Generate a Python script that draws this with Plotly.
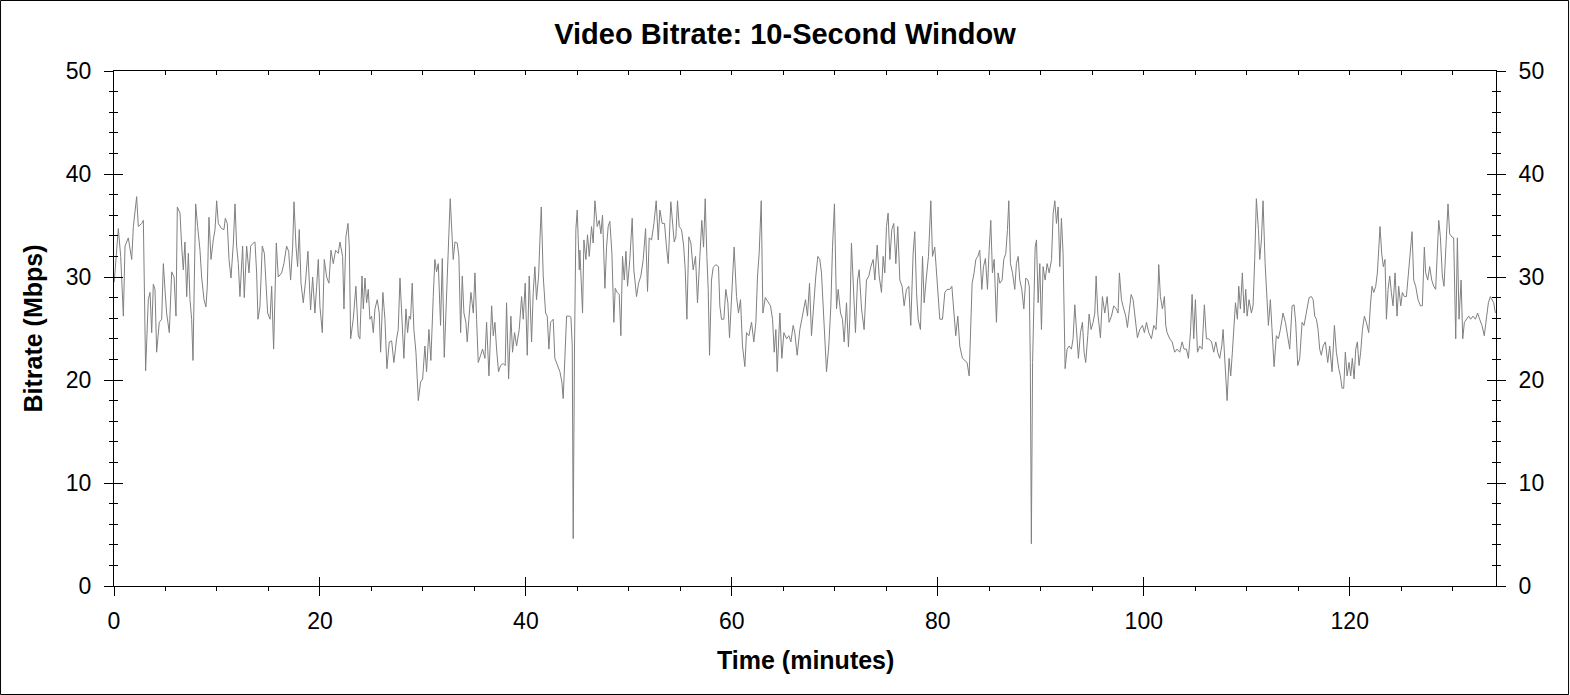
import plotly.graph_objects as go

chart_title = "Video Bitrate: 10-Second Window"
x_title = "Time (minutes)"
y_title = "Bitrate (Mbps)"

x_ticks = [0, 20, 40, 60, 80, 100, 120]
y_ticks = [0, 10, 20, 30, 40, 50]

# readings, minutes / Mbps
t_0_22 = [0.02, 0.19, 0.42, 0.65, 0.91, 1.07, 1.39, 1.72, 1.88, 2.20, 2.36,
          2.69, 2.85, 3.07, 3.33, 3.50, 3.66, 3.82, 3.98, 4.14, 4.40,
          4.63, 4.79, 4.95, 5.11, 5.37, 5.60, 5.83, 6.02, 6.15, 6.41,
          6.57, 6.73, 6.89, 7.06, 7.22, 7.38, 7.54, 7.67, 7.80, 7.93,
          8.12, 8.35, 8.51, 8.74, 8.93, 9.06, 9.22, 9.42, 9.64, 9.81,
          9.97, 10.13, 10.45, 10.68, 10.81, 11.00, 11.17, 11.36, 11.59, 11.75,
          11.91, 12.07, 12.23, 12.49, 12.65, 12.88, 13.11, 13.27, 13.53, 13.69,
          13.85, 13.98, 14.17, 14.40, 14.60, 14.76, 14.92, 15.15, 15.31, 15.50,
          15.76, 15.95, 16.28, 16.50, 16.76, 16.96, 17.15, 17.35, 17.48, 17.67,
          17.83, 17.99, 18.16, 18.38, 18.61, 18.83, 19.09, 19.29, 19.51, 19.68,
          19.84, 20.00, 20.23, 20.42, 20.65, 20.87, 21.07, 21.29, 21.52, 21.78]
r_0_22 = [29.5, 32, 34.7, 32, 26.2, 33, 33.8, 31.7, 34.9, 37.8, 34.9,
          35.2, 35.5, 20.9, 27.8, 28.5, 24.6, 29.3, 28.8, 22.7, 25.6,
          25.9, 31.3, 28.8, 26.5, 24.6, 30.5, 30, 26.2, 36.8, 36.2,
          33, 30.7, 33.4, 28.1, 32.3, 27.8, 25.9, 21.9, 29.7, 37.1,
          34.9, 32.6, 30, 27.8, 27.1, 29.1, 35.8, 31.7, 33.6, 34.6,
          37.4, 35.2, 34.7, 34.6, 35.7, 35.2, 31.7, 29.9, 33.3, 37.1,
          33, 31.3, 28.1, 33, 28, 33, 30.4, 33, 33.3, 33.4,
          30.4, 25.9, 27.1, 33, 32.3, 29.7, 26.5, 25.9, 29.1, 23,
          33.3, 30, 30.4, 31.3, 33, 32.5, 29.7, 33, 37.3, 33,
          31, 34.6, 29.4, 27.5, 29.7, 32.5, 26.8, 30, 26.5, 29.1,
          31.7, 27.1, 24.6, 31.7, 30, 29.4, 32.6, 31.3, 32.6, 32.3]

t_22_45 = [21.94, 22.20, 22.33, 22.52, 22.72, 22.85, 22.98, 23.23, 23.49, 23.72,
           23.88, 24.08, 24.21, 24.37, 24.53, 24.69, 24.85, 25.01, 25.18, 25.34,
           25.56, 25.76, 25.89, 26.11, 26.31, 26.50, 26.73, 26.96, 27.18, 27.44,
           27.60, 27.77, 27.93, 28.15, 28.35, 28.51, 28.67, 28.80, 28.96, 29.12,
           29.32, 29.55, 29.77, 29.97, 30.19, 30.35, 30.58, 30.77, 31.00, 31.16,
           31.32, 31.49, 31.71, 31.88, 32.07, 32.23, 32.39, 32.52, 32.65, 32.81,
           32.94, 33.11, 33.33, 33.49, 33.66, 33.82, 33.98, 34.17, 34.30, 34.46,
           34.66, 34.89, 35.05, 35.21, 35.37, 35.60, 35.79, 36.02, 36.18, 36.41,
           36.67, 36.83, 36.99, 37.15, 37.34, 37.54, 37.80, 37.99, 38.12, 38.32,
           38.54, 38.70, 38.90, 39.09, 39.35, 39.58, 39.74, 39.93, 40.13, 40.32,
           40.55, 40.71, 40.87, 41.03, 41.23, 41.36, 41.49, 41.68, 41.91, 42.07,
           42.23, 42.39, 42.65, 42.81, 43.04, 43.30, 43.49, 43.62, 43.78, 43.95,
           44.21, 44.37, 44.50, 44.59, 44.72, 44.85, 44.98, 45.18]
r_22_45 = [33.4, 32, 26.9, 33.9, 35.2, 32.9, 24, 25.9, 29.1, 24.3,
           24, 30.1, 26.9, 29.9, 27.5, 28.8, 25.9, 26.2, 24.6, 26.9,
           27.8, 26.5, 22.7, 28.5, 25.9, 21.1, 23.7, 23.8, 21.7, 24,
           24.9, 29.9, 25.9, 22.1, 26.9, 24.6, 26.2, 25.9, 29.4, 24.9,
           22.7, 18, 19.8, 20.1, 23.3, 20.8, 24.9, 21.9, 28.1, 31.7,
           30.5, 31.3, 25.3, 31.8, 22.2, 26.5, 32.6, 34.2, 37.6, 33.8,
           31.7, 33.4, 33.3, 32, 24.6, 30.1, 26.5, 25.6, 23.7, 25.9,
           28.5, 26.5, 30.4, 25.9, 21.7, 22.4, 23, 22.1, 25.6, 20.4,
           27.2, 24.3, 25.6, 23, 20.8, 21.4, 21.6, 21.4, 27.5, 20.1,
           26.2, 22.7, 24.6, 23.3, 24.9, 28.1, 25.9, 29.4, 22.4, 30.1,
           23.7, 28.5, 31, 27.8, 30.1, 33.6, 36.8, 30.1, 26.5, 26.2,
           23, 25.6, 25.9, 22.1, 21.4, 20.8, 19.8, 18.2, 22.1, 26.2,
           26.2, 26.1, 23.3, 4.6, 23.3, 34.6, 36.5, 30.7]

t_45_68 = [45.24, 45.50, 45.63, 45.82, 45.98, 46.15, 46.37, 46.53, 46.70, 46.92,
           47.12, 47.28, 47.44, 47.57, 47.67, 47.83, 47.99, 48.15, 48.35, 48.54,
           48.67, 48.86, 49.06, 49.22, 49.38, 49.55, 49.71, 49.87, 50.09, 50.32,
           50.48, 50.74, 50.94, 51.16, 51.39, 51.62, 51.81, 51.97, 52.20, 52.43,
           52.65, 52.85, 53.01, 53.23, 53.46, 53.65, 53.82, 54.07, 54.24, 54.40,
           54.56, 54.72, 54.88, 55.11, 55.31, 55.47, 55.63, 55.82, 56.02, 56.24,
           56.47, 56.66, 56.89, 57.08, 57.25, 57.41, 57.57, 57.70, 57.83, 58.02,
           58.18, 58.44, 58.70, 58.83, 58.99, 59.22, 59.41, 59.61, 59.77, 60.00,
           60.22, 60.45, 60.64, 60.84, 61.03, 61.26, 61.42, 61.65, 61.91, 62.13,
           62.33, 62.49, 62.65, 62.85, 63.01, 63.24, 63.53, 63.75, 63.95, 64.11,
           64.27, 64.40, 64.66, 64.85, 65.05, 65.31, 65.53, 65.73, 65.95, 66.11,
           66.34, 66.60, 66.79, 66.99, 67.15, 67.34, 67.54, 67.73, 67.96, 68.15,
           68.35]
r_45_68 = [32.6, 26.5, 33.6, 31.7, 34.1, 32, 34.9, 33.3, 37.4, 34.9,
           35.5, 34.2, 36, 32.9, 28.9, 32.9, 34.9, 35.4, 32.3, 25.6,
           28.9, 28.5, 28.3, 24.3, 32, 29.7, 32.5, 29.1, 31.7, 35.7,
           30.7, 28.1, 29.4, 30.1, 31.7, 34.7, 28.6, 33.8, 33.6, 35.2,
           37.4, 33.6, 36.5, 35.2, 35.2, 32.9, 31.3, 37.3, 35.2, 33.4,
           33.9, 37.4, 34.9, 34.6, 33.1, 30.7, 25.9, 33.9, 33.3, 30.7,
           32, 27.5, 32, 35.5, 32.9, 37.6, 32, 28.8, 22.4, 29.7,
           30.9, 31.2, 31, 27.2, 25.9, 25.9, 28.8, 27.5, 24.1, 28.8,
           32.9, 28.1, 26.5, 27.8, 23.3, 21.3, 24.6, 24.3, 25.6, 23.7,
           25.6, 30.1, 32.3, 37.4, 26.5, 28, 27.5, 27.2, 25.9, 22.7,
           24.9, 20.8, 26.5, 22.1, 24.6, 24, 24.3, 23.7, 25.3, 24.6,
           22.4, 24.9, 25.9, 27.2, 27.8, 26.2, 29.4, 24.3, 28.1, 30.1,
           32]

t_68_92 = [68.54, 68.70, 68.86, 69.03, 69.19, 69.41, 69.61, 69.77, 69.96, 70.16,
           70.32, 70.55, 70.74, 70.90, 71.13, 71.32, 71.45, 71.61, 71.78, 72.00,
           72.20, 72.36, 72.59, 72.84, 73.07, 73.30, 73.49, 73.72, 73.88, 74.11,
           74.30, 74.53, 74.69, 74.85, 75.01, 75.17, 75.34, 75.53, 75.72, 75.92,
           76.11, 76.31, 76.53, 76.73, 76.95, 77.18, 77.37, 77.60, 77.76, 77.93,
           78.09, 78.31, 78.51, 78.67, 78.90, 79.09, 79.32, 79.48, 79.70, 79.93,
           80.19, 80.45, 80.68, 80.90, 81.16, 81.36, 81.55, 81.74, 81.94, 82.13,
           82.39, 82.65, 82.84, 83.04, 83.17, 83.33, 83.52, 83.69, 83.88, 84.07,
           84.27, 84.43, 84.62, 84.82, 84.98, 85.14, 85.30, 85.47, 85.69, 85.85,
           86.02, 86.24, 86.40, 86.60, 86.76, 86.89, 87.05, 87.25, 87.47, 87.63,
           87.80, 87.96, 88.15, 88.35, 88.54, 88.74, 88.88, 88.98, 89.08, 89.20,
           89.45, 89.58, 89.74, 89.90, 90.06, 90.22, 90.42, 90.61, 90.81, 91.04,
           91.20, 91.36, 91.52, 91.68]
r_68_92 = [31.7, 30.4, 26.9, 22.7, 20.8, 23.3, 27.2, 32.9, 37.1, 26.9,
           28.8, 26.5, 25.9, 23.7, 27.5, 23.2, 25.9, 33.3, 29.4, 24.6,
           29.7, 30.7, 26.9, 24.9, 29.7, 30.1, 31, 31.7, 29.7, 33.1,
           30.1, 28.5, 32, 30.4, 34.9, 36.2, 31.7, 34.6, 35.2, 31.3,
           34.9, 29.7, 29.1, 27.2, 28.8, 29.1, 25.3, 32.3, 34.4, 28.5,
           25.9, 24.9, 32, 27.5, 30.1, 32, 37.4, 32, 32.9, 29.1,
           25.9, 25.9, 28.5, 28.8, 28.8, 29.1, 26.2, 24.3, 26.2, 23.3,
           22.1, 21.9, 21.7, 20.4, 25.6, 29.4, 30.4, 31.7, 32, 32.6,
           28.8, 31, 31.8, 28.8, 32.6, 35.5, 30.4, 31.7, 25.6, 30.4,
           29.4, 29.7, 31.7, 32.3, 34.6, 37.4, 31.3, 30.4, 28.8, 31.3,
           32, 29.7, 28.8, 26.9, 29.9, 29.7, 29.1, 21.7, 4.1, 21.7,
           32.9, 33.6, 27.5, 31.3, 24.9, 31, 29.7, 31.3, 30.4, 31.7,
           36.2, 37.4, 35.2, 36.8]

t_92_116 = [91.84, 92.00, 92.16, 92.23, 92.36, 92.55, 92.75, 92.97, 93.13, 93.30,
            93.46, 93.65, 93.85, 94.04, 94.20, 94.36, 94.56, 94.69, 94.88, 95.08,
            95.24, 95.37, 95.53, 95.79, 95.98, 96.21, 96.44, 96.63, 96.86, 97.08,
            97.34, 97.50, 97.63, 97.83, 98.05, 98.25, 98.41, 98.57, 98.77, 98.96,
            99.15, 99.38, 99.61, 99.87, 100.06, 100.26, 100.48, 100.74, 100.97, 101.19,
            101.36, 101.45, 101.61, 101.81, 102.00, 102.13, 102.26, 102.52, 102.75, 103.00,
            103.23, 103.49, 103.72, 103.91, 104.14, 104.33, 104.53, 104.69, 104.85, 105.01,
            105.21, 105.43, 105.66, 105.88, 106.08, 106.31, 106.57, 106.79, 106.99, 107.18,
            107.37, 107.57, 107.70, 107.86, 108.09, 108.28, 108.44, 108.60, 108.73, 108.90,
            109.09, 109.22, 109.38, 109.57, 109.74, 109.90, 110.03, 110.22, 110.45, 110.61,
            110.77, 110.93, 111.13, 111.26, 111.42, 111.58, 111.78, 111.97, 112.10, 112.29,
            112.46, 112.65, 112.87, 113.07, 113.26, 113.52, 113.75, 113.94, 114.17, 114.40,
            114.59, 114.75, 114.95, 115.14, 115.37, 115.56, 115.79, 116.05]
r_92_116 = [31, 35.7, 32.3, 26.5, 21.1, 23, 23.3, 23, 24, 27.3,
            24.3, 22.1, 24.6, 25.6, 22.7, 21.7, 24.3, 26.4, 24.9, 25.6,
            26.5, 30.1, 26.5, 24.1, 28.1, 26.5, 28.1, 25.6, 26.2, 27.2,
            26.9, 26.5, 30.4, 27.8, 26.9, 26.2, 25.1, 26.5, 28.3, 27.8,
            25.9, 24.1, 24.9, 25.3, 24.6, 25.6, 24.6, 24, 25.3, 24.9,
            28.1, 31.2, 28.1, 26.9, 28.1, 25.3, 24.6, 24, 23.7, 22.7,
            23, 22.7, 23.7, 23, 23, 22.1, 24.6, 28.3, 24, 27.8,
            22.7, 23.3, 23, 27.3, 24, 24, 23.7, 22.7, 23.7, 22.7,
            22.1, 23.3, 24.9, 22.4, 18, 22.1, 20.4, 22.7, 25.3, 27.5,
            25.9, 29.1, 26.9, 30.4, 26.5, 28.8, 26.2, 27.8, 26.5, 27.2,
            31.7, 37.6, 34.6, 31.7, 33.6, 37.4, 31.3, 27.2, 25.3, 27.8,
            24.3, 21.3, 24.3, 24, 24.9, 26.5, 25.6, 24.3, 23, 27.2,
            27.3, 25.6, 21.4, 22.1, 25.6, 25.3, 26.5, 28]

t_116_134 = [116.27, 116.44, 116.60, 116.76, 116.92, 117.08, 117.24, 117.41, 117.63, 117.86,
             118.05, 118.28, 118.51, 118.70, 118.93, 119.09, 119.25, 119.41, 119.57, 119.74,
             119.93, 120.09, 120.25, 120.42, 120.58, 120.74, 120.90, 121.06, 121.23, 121.42,
             121.61, 121.84, 122.00, 122.16, 122.33, 122.52, 122.68, 122.81, 122.94, 123.10,
             123.26, 123.42, 123.56, 123.72, 123.88, 124.04, 124.20, 124.40, 124.59, 124.75,
             124.95, 125.11, 125.30, 125.50, 125.69, 125.89, 126.05, 126.21, 126.40, 126.63,
             126.86, 127.05, 127.24, 127.37, 127.57, 127.76, 127.96, 128.15, 128.34, 128.47,
             128.64, 128.80, 128.99, 129.15, 129.32, 129.54, 129.70, 129.90, 130.09, 130.29,
             130.45, 130.61, 130.81, 130.97, 131.13, 131.32, 131.55, 131.74, 131.97, 132.20,
             132.42, 132.61, 132.84, 133.06, 133.26, 133.46, 133.65, 133.81, 133.98, 134.14]
r_116_134 = [28.1, 27.8, 26.2, 25.9, 24.9, 23, 22.4, 23.3, 23.7, 21.7,
             23.3, 20.8, 25.3, 22.7, 21.1, 20.4, 19.2, 19.2, 22.7, 20.4,
             21.7, 20.4, 22.1, 20.1, 23, 23.7, 21.4, 22.7, 24.9, 26.2,
             25.6, 24.6, 27.2, 29.1, 28.5, 29.1, 30.4, 32.9, 34.9, 32.3,
             31, 31.7, 25.9, 28.8, 30.1, 28.5, 27.2, 30.4, 26.2, 29.1,
             27.2, 28.5, 28.1, 28.1, 30.1, 32, 34.4, 29.7, 29.1, 27.8,
             27.2, 27.2, 32.9, 30.4, 29.7, 31, 29.7, 29.1, 28.8, 31.7,
             35.5, 33.9, 30.1, 29.1, 32.9, 37.1, 34.2, 33.9, 33.8, 24,
             33.8, 25.9, 29.7, 24, 25.6, 25.9, 26.2, 25.9, 26.2, 25.9,
             26.5, 25.9, 25.3, 24.3, 25.9, 27.5, 28.1, 27.8, 27.5, 26.5]

time_min = t_0_22 + t_22_45 + t_45_68 + t_68_92 + t_92_116 + t_116_134
bitrate = r_0_22 + r_22_45 + r_45_68 + r_68_92 + r_92_116 + r_116_134

FONT = "Liberation Sans, Arial, sans-serif"
X_RANGE = [0, 134.2]
Y_RANGE = [0, 50]

fig = go.Figure()
fig.add_trace(go.Scatter(
    x=time_min, y=bitrate, mode="lines",
    line=dict(color="#808080", width=1),
    hoverinfo="skip", showlegend=False,
))

# invisible copies so the extra tick/frame axes get drawn
for xa, ya in [("x2", "y"), ("x3", "y"), ("x", "y2"), ("x", "y3"), ("x", "y4")]:
    fig.add_trace(go.Scatter(x=time_min, y=bitrate, mode="lines", xaxis=xa, yaxis=ya,
                             opacity=0, line=dict(width=1), hoverinfo="skip",
                             showlegend=False))

tick_font = dict(family=FONT, size=23, color="black")
base = dict(showgrid=False, zeroline=False, tickcolor="black", tickwidth=1,
            linecolor="black", linewidth=1)

fig.update_layout(
    width=1570, height=695,
    margin=dict(l=114, r=74, t=71, b=109, pad=0),
    paper_bgcolor="white", plot_bgcolor="white",
    font=dict(family=FONT, color="black"),
    showlegend=False,
    title=dict(text="<b>" + chart_title + "</b>", x=0.5, xref="container",
               y=1 - 34 / 695, yanchor="middle", yref="container",
               font=dict(family=FONT, size=29, color="black")),
    # bottom axis: labels, outward ticks
    xaxis=dict(base, range=X_RANGE, tickvals=x_ticks, ticks="outside", ticklen=9,
               showline=True, tickfont=tick_font, anchor="y", side="bottom",
               ticklabelstandoff=5,
               minor=dict(dtick=5, tick0=0, ticks="outside", ticklen=4,
                          tickcolor="black", showgrid=False)),
    # inner half of the crossing major ticks at the bottom
    xaxis2=dict(base, range=X_RANGE, tickvals=x_ticks, ticks="inside", ticklen=9,
                showline=False, showticklabels=False, overlaying="x",
                anchor="y", side="bottom"),
    # top frame line with small inward ticks
    xaxis3=dict(base, range=X_RANGE, dtick=5, tick0=0, ticks="inside", ticklen=4,
                showline=True, showticklabels=False, overlaying="x",
                anchor="y", side="top"),
    yaxis=dict(base, range=Y_RANGE, tickvals=y_ticks, ticks="outside", ticklen=9,
               showline=True, tickfont=tick_font, anchor="x", side="left",
               ticklabelstandoff=8,
               minor=dict(dtick=2, tick0=0, ticks="outside", ticklen=4,
                          tickcolor="black", showgrid=False)),
    yaxis2=dict(base, range=Y_RANGE, tickvals=y_ticks, ticks="inside", ticklen=9,
                showline=False, showticklabels=False, overlaying="y",
                anchor="x", side="left",
                minor=dict(dtick=2, tick0=0, ticks="inside", ticklen=4,
                           tickcolor="black", showgrid=False)),
    yaxis3=dict(base, range=Y_RANGE, tickvals=y_ticks, ticks="outside", ticklen=9,
                showline=True, tickfont=tick_font, overlaying="y",
                anchor="x", side="right", ticklabelstandoff=8,
                minor=dict(dtick=2, tick0=0, ticks="outside", ticklen=4,
                           tickcolor="black", showgrid=False)),
    yaxis4=dict(base, range=Y_RANGE, tickvals=y_ticks, ticks="inside", ticklen=9,
                showline=False, showticklabels=False, overlaying="y",
                anchor="x", side="right",
                minor=dict(dtick=2, tick0=0, ticks="inside", ticklen=4,
                           tickcolor="black", showgrid=False)),
)

# axis titles
fig.add_annotation(text="<b>" + x_title + "</b>", xref="paper", yref="paper",
                   x=0.5, y=-0.1437, xanchor="center", yanchor="middle",
                   showarrow=False, font=dict(family=FONT, size=25, color="black"))
fig.add_annotation(text="<b>" + y_title + "</b>", xref="paper", yref="paper",
                   x=-0.0593, y=0.5, xanchor="center", yanchor="middle",
                   textangle=-90, showarrow=False,
                   font=dict(family=FONT, size=25, color="black"))

# thin frame round the whole picture
fig.add_shape(type="rect", xref="paper", yref="paper",
              x0=-0.0821, x1=1.0525, y0=-0.2107, y1=1.1369,
              line=dict(color="black", width=1), fillcolor="rgba(0,0,0,0)")

fig.write_html("out.html", config={"displayModeBar": False},
               post_script="document.body.style.margin='0';"
                           "document.body.style.overflow='hidden';")
